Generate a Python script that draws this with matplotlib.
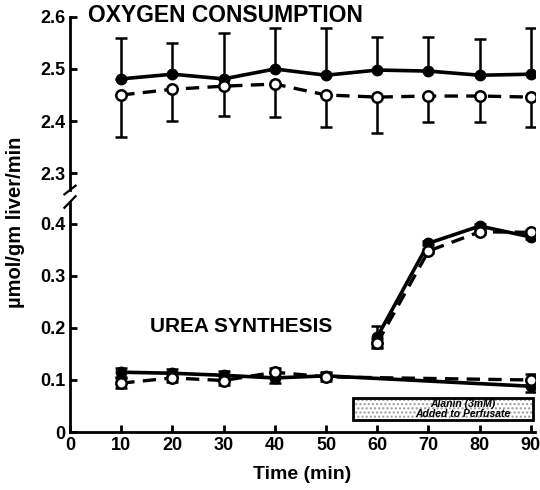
import matplotlib.pyplot as plt
from matplotlib.patches import Rectangle

plt.rcParams["font.family"] = ["Liberation Sans", "DejaVu Sans"]
plt.rcParams["hatch.linewidth"] = 1.0

# time points (min)
time = [10, 20, 30, 40, 50, 60, 70, 80, 90]

# oxygen consumption
o2_filled = [2.481, 2.490, 2.481, 2.500, 2.488, 2.498, 2.496, 2.488, 2.490]
o2_filled_err = [0.079, 0.060, 0.088, 0.079, 0.091, 0.064, 0.066, 0.070, 0.089]
o2_open = [2.450, 2.461, 2.467, 2.471, 2.450, 2.446, 2.448, 2.448, 2.446]
o2_open_err = [0.081, 0.061, 0.057, 0.063, 0.062, 0.069, 0.050, 0.050, 0.058]

# urea synthesis, control
ctrl_time = [10, 20, 30, 40, 50, 90]
urea_ctrl_filled = [0.115, 0.113, 0.109, 0.104, 0.108, 0.088]
urea_ctrl_open = [0.094, 0.104, 0.099, 0.115, 0.106, 0.100]
urea_ctrl_err = [0.009, 0.008, 0.008, 0.009, 0.007, 0.012]

# urea synthesis, alanine added
ala_time = [60, 70, 80, 90]
urea_ala_filled = [0.183, 0.363, 0.396, 0.375]
urea_ala_filled_err = [0.021, 0.004, 0.004, 0.004]
urea_ala_open = [0.171, 0.348, 0.385, 0.384]
urea_ala_open_err = [0.008, 0.004, 0.004, 0.004]

ala_start, ala_end = 55.2, 90.4
box_low, box_high = 0.023, 0.065

fig = plt.figure(figsize=(5.4, 4.9), dpi=100)
ax_top = fig.add_axes([70 / 540, (490 - 190) / 490, 465 / 540, 173 / 490])
ax_bot = fig.add_axes([70 / 540, 58 / 490, 465 / 540, 230 / 490])

filled_kw = dict(color="black", lw=2.6, marker="o", ms=7.5, mfc="black",
                 mec="black", elinewidth=1.8, capsize=4, capthick=1.8)
open_kw = dict(color="black", lw=2.4, ls=(0, (4, 2.5)), marker="o", ms=7.5,
               mfc="white", mec="black", mew=1.8, elinewidth=1.8,
               capsize=4, capthick=1.8)

ax_top.errorbar(time, o2_filled, yerr=[[0] * 9, o2_filled_err], zorder=3, **filled_kw)
ax_top.errorbar(time, o2_open, yerr=[o2_open_err, [0] * 9], zorder=4, **open_kw)

ax_bot.errorbar(ctrl_time, urea_ctrl_filled, yerr=urea_ctrl_err, zorder=3, **filled_kw)
ax_bot.errorbar(ctrl_time, urea_ctrl_open, yerr=urea_ctrl_err, zorder=4, **open_kw)
ax_bot.errorbar(ala_time, urea_ala_filled, yerr=urea_ala_filled_err, zorder=3, **filled_kw)
ax_bot.errorbar(ala_time, urea_ala_open, yerr=urea_ala_open_err, zorder=4, **open_kw)

# "alanine added" box: dotted fill plus a black frame
ax_bot.add_patch(Rectangle((ala_start, box_low), ala_end - ala_start, box_high - box_low,
                           facecolor="white", edgecolor="#9a9a9a", lw=0,
                           hatch="....", zorder=2, clip_on=False))
ax_bot.add_patch(Rectangle((ala_start, box_low), ala_end - ala_start, box_high - box_low,
                           facecolor="none", edgecolor="black", lw=2,
                           zorder=2.5, clip_on=False))
ax_bot.text((ala_start + ala_end) / 2 + 4, (box_low + box_high) / 2,
            "Alanin (3mM)\nAdded to Perfusate", ha="center", va="center",
            fontsize=7.5, style="italic", fontweight="bold", linespacing=1.05,
            zorder=5)

for ax in (ax_top, ax_bot):
    ax.set_xlim(0, 90.8)
    for s in ("top", "right"):
        ax.spines[s].set_visible(False)
    ax.spines["left"].set_linewidth(2)
    ax.tick_params(direction="in", width=2, length=5, labelsize=13)

ax_top.set_ylim(2.6 - 173 / 520, 2.6)
ax_top.set_yticks([2.3, 2.4, 2.5, 2.6])
ax_top.set_yticklabels(["2.3", "2.4", "2.5", "2.6"], fontweight="bold")
ax_top.spines["bottom"].set_visible(False)
ax_top.set_xticks([])

ax_bot.set_ylim(0, 230 / 520)
ax_bot.set_yticks([0, 0.1, 0.2, 0.3, 0.4])
ax_bot.set_yticklabels(["0", "0.1", "0.2", "0.3", "0.4"], fontweight="bold")
ax_bot.set_xticks([0] + time)
ax_bot.set_xticklabels([str(t) for t in [0] + time], fontweight="bold")
ax_bot.spines["bottom"].set_linewidth(2)
ax_bot.set_xlabel("Time (min)", fontsize=14, fontweight="bold", labelpad=9)

# break marks on the y axis
for ax, y in ((ax_top, 0.0), (ax_bot, 1.0)):
    ax.plot([-0.012, 0.012], [y - 0.025, y + 0.025], transform=ax.transAxes,
            color="black", lw=1.6, clip_on=False)

fig.text(88 / 540, 1 - 15 / 490, "OXYGEN CONSUMPTION", fontsize=16.5,
         fontweight="bold", va="center", ha="left")
fig.text(150 / 540, 1 - 327 / 490, "UREA SYNTHESIS", fontsize=15,
         fontweight="bold", va="center", ha="left")
fig.text(16 / 540, 1 - 222 / 490, "\u00b5mol/gm liver/min", fontsize=14.5,
         fontweight="bold", rotation=90, va="center", ha="center")

fig.savefig("out.png", dpi=100)
